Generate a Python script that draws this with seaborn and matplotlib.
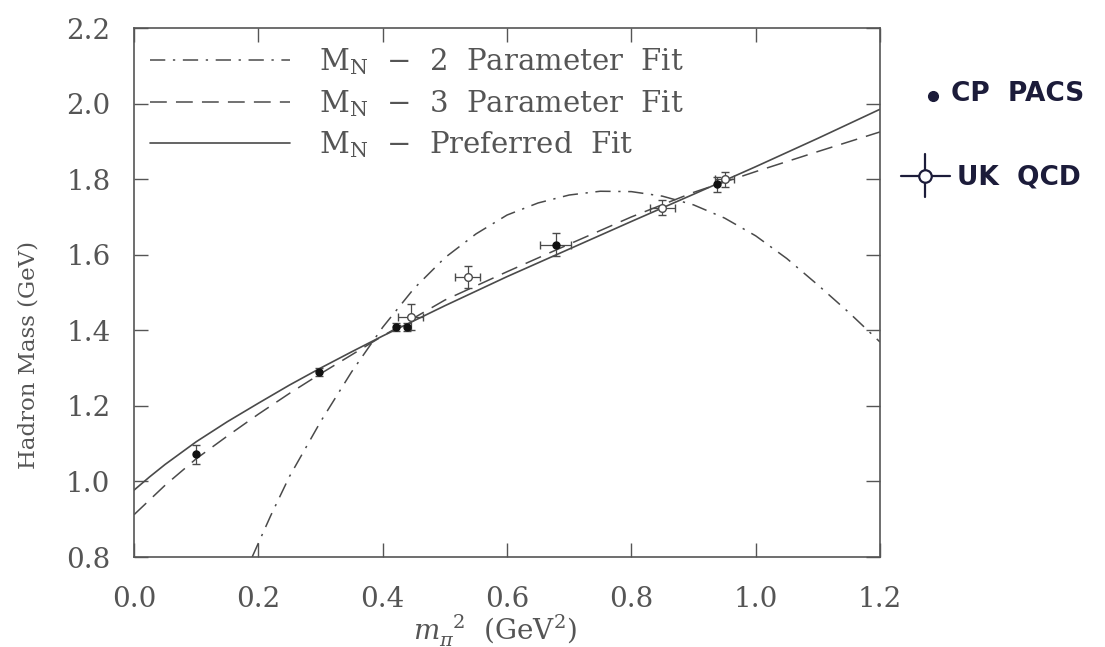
import matplotlib
matplotlib.use("Agg")
import matplotlib.pyplot as plt
import seaborn as sns
import pandas as pd
from matplotlib.lines import Line2D

# Fit curves, sampled in m_pi^2 (GeV^2) -> nucleon mass (GeV)
fit2_x = [0.19, 0.22, 0.25, 0.30, 0.35, 0.40, 0.45, 0.50, 0.55, 0.60, 0.65, 0.70, 0.75,
          0.80, 0.85, 0.90, 0.95, 1.00, 1.05, 1.10, 1.15, 1.20]
fit2_y = [0.80, 0.91, 1.013, 1.158, 1.29, 1.408, 1.51, 1.592, 1.655, 1.705, 1.737, 1.758, 1.768,
          1.767, 1.755, 1.732, 1.697, 1.650, 1.59, 1.52, 1.447, 1.369]

fit3_x = [0.0, 0.05, 0.10, 0.15, 0.20, 0.25, 0.30, 0.40, 0.50, 0.60, 0.70, 0.80, 0.90, 1.00, 1.10, 1.20]
fit3_y = [0.912, 0.99, 1.06, 1.12, 1.178, 1.233, 1.285, 1.385, 1.48, 1.555, 1.628, 1.70, 1.765, 1.82, 1.873, 1.925]

pref_x = [0.0, 0.025, 0.05, 0.10, 0.15, 0.20, 0.25, 0.30, 0.35, 0.40, 0.50, 0.60, 0.70, 0.80, 0.90, 1.00, 1.10, 1.20]
pref_y = [0.977, 1.012, 1.045, 1.105, 1.158, 1.207, 1.255, 1.300, 1.343, 1.385, 1.465, 1.542, 1.615, 1.688, 1.760, 1.833, 1.908, 1.985]

# Lattice data
cppacs_x = [0.100, 0.298, 0.421, 0.439, 0.678, 0.938]
cppacs_y = [1.072, 1.290, 1.408, 1.408, 1.627, 1.787]
cppacs_yerr = [0.025, 0.01, 0.01, 0.01, 0.03, 0.02]
cppacs_xerr = [0.0, 0.0, 0.0, 0.0, 0.025, 0.0]

ukqcd_x = [0.445, 0.537, 0.850, 0.950]
ukqcd_y = [1.435, 1.541, 1.724, 1.800]
ukqcd_yerr = [0.035, 0.03, 0.02, 0.02]
ukqcd_xerr = [0.02, 0.02, 0.02, 0.015]

x_ticks = [0.0, 0.2, 0.4, 0.6, 0.8, 1.0, 1.2]
y_ticks = [0.8, 1.0, 1.2, 1.4, 1.6, 1.8, 2.0, 2.2]

sns.set_theme(style="ticks")
plt.rcParams["font.family"] = ["DejaVu Serif"]
plt.rcParams["mathtext.fontset"] = "dejavuserif"

ink = "#4a4a4a"
txt = "#555555"
fig = plt.figure(figsize=(11.05, 6.47), dpi=100)
ax = fig.add_axes([0.1213, 0.1391, 0.6751, 0.8176])

df2 = pd.DataFrame({"x": fit2_x, "y": fit2_y})
df3 = pd.DataFrame({"x": fit3_x, "y": fit3_y})
dfp = pd.DataFrame({"x": pref_x, "y": pref_y})

sns.lineplot(data=df2, x="x", y="y", ax=ax, color=ink, lw=1.1, sort=False,
             label=r"M$_{\mathregular{N}}$  $-$  2  Parameter  Fit")
sns.lineplot(data=df3, x="x", y="y", ax=ax, color=ink, lw=1.1, sort=False,
             label=r"M$_{\mathregular{N}}$  $-$  3  Parameter  Fit")
sns.lineplot(data=dfp, x="x", y="y", ax=ax, color=ink, lw=1.2, sort=False,
             label=r"M$_{\mathregular{N}}$  $-$  Preferred  Fit")
lines = ax.get_lines()
lines[0].set_dashes([10, 5, 1.5, 5])
lines[1].set_dashes([11, 6])

ax.errorbar(ukqcd_x, ukqcd_y, yerr=ukqcd_yerr, xerr=ukqcd_xerr, fmt="o",
            ms=5.5, mfc="white", mec=ink, color=ink, ecolor=ink, elinewidth=0.9,
            capsize=3, zorder=4)
ax.errorbar(cppacs_x, cppacs_y, yerr=cppacs_yerr, xerr=cppacs_xerr, fmt="o",
            ms=5, color="#111111", ecolor=ink, elinewidth=0.9, capsize=3, zorder=5)

ax.set_xlim(0.0, 1.2)
ax.set_ylim(0.8, 2.2)
ax.set_xticks(x_ticks)
ax.set_yticks(y_ticks)
ax.set_xticklabels([f"{v:.1f}" for v in x_ticks])
ax.set_yticklabels([f"{v:.1f}" for v in y_ticks])
ax.tick_params(direction="in", length=10, width=1.0, color="#555555",
               labelsize=20, labelcolor=txt, top=True, right=True)
ax.tick_params(axis="x", pad=21)
ax.tick_params(axis="y", pad=17)
for s in ax.spines.values():
    s.set_color("#555555")
    s.set_linewidth(1.2)
    s.set_visible(True)

ax.set_xlabel(r"$m_\pi^{\ \ 2}$  (GeV$^2$)", fontsize=20, color=txt)
ax.xaxis.set_label_coords(0.484, -0.105)
ax.set_ylabel("Hadron Mass (GeV)", fontsize=16.5, color=txt)
ax.yaxis.set_label_coords(-0.127, 0.382)

leg = ax.legend(loc="upper left", bbox_to_anchor=(0.021, 0.965), borderpad=0,
                borderaxespad=0, frameon=False, fontsize=21, handlelength=4.8,
                handletextpad=1.0, labelspacing=0.36, labelcolor=txt)

# Hand-noted key for the two data sets
note = "#1c1c3a"
fig.add_artist(Line2D([0.844], [0.851], marker="o", ms=7, color=note,
                      transform=fig.transFigure))
fig.text(0.861, 0.854, "CP  PACS", fontsize=19, color=note,
         family=["DejaVu Sans"], weight="bold", va="center")
fig.add_artist(Line2D([0.815, 0.860], [0.728, 0.728], color=note, lw=1.6,
                      transform=fig.transFigure))
fig.add_artist(Line2D([0.837, 0.837], [0.695, 0.762], color=note, lw=1.6,
                      transform=fig.transFigure))
fig.add_artist(Line2D([0.837], [0.728], marker="o", ms=9, mfc="white",
                      mec=note, mew=1.6, transform=fig.transFigure))
fig.text(0.866, 0.726, "UK  QCD", fontsize=19, color=note,
         family=["DejaVu Sans"], weight="bold", va="center")

fig.savefig("out.png", dpi=100, facecolor="white")
